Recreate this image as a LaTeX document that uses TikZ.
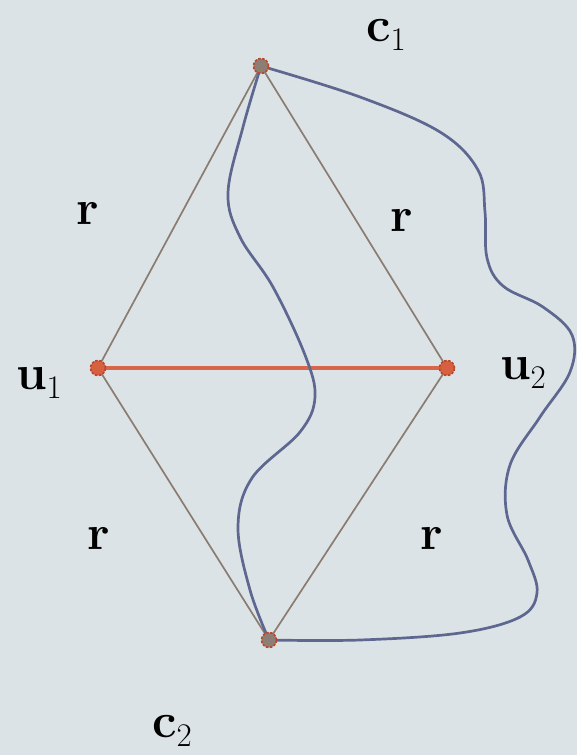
\documentclass[tikz,border=0pt]{standalone}
\newcommand{\subtxt}[1]{\raisebox{-9pt}{\fontsize{33}{36}\selectfont\mdseries #1}}
\begin{document}
\begin{tikzpicture}[x=1pt,y=-1pt,
  pt/.style={circle,inner sep=0pt,minimum size=15pt,draw=ptborder,line width=1.6pt,dash pattern=on 2.5pt off 1.5pt},
  cpt/.style={pt,fill=cfill},
  upt/.style={pt,fill=ufill},
  lbl/.style={inner sep=0pt,font=\fontsize{49}{55}\selectfont\bfseries},
  side/.style={draw=sidec,line width=1.7pt},
  chord/.style={draw=chordc,line width=3.4pt},
  path/.style={draw=pathc,line width=2.7pt}
]
\definecolor{bgc}{HTML}{DCE3E6}
\definecolor{cfill}{HTML}{8E7D72}
\definecolor{ufill}{HTML}{D6603F}
\definecolor{ptborder}{HTML}{B8462B}
\definecolor{sidec}{HTML}{8B7C71}
\definecolor{chordc}{HTML}{D9654B}
\definecolor{pathc}{HTML}{5D6790}
\fill[bgc] (0,0) rectangle (577,755);
\useasboundingbox (0,0) rectangle (577,755);

\coordinate (c1) at (261,66);
\coordinate (u1) at (98,368);
\coordinate (u2) at (447,368);
\coordinate (c2) at (269,640);

\draw[side] (c1) -- (u1) -- (c2) -- (u2) -- cycle;
\draw[chord] (u1) -- (u2);

\draw[path] plot[smooth,tension=0.6] coordinates {(c1) (243,127) (228,193) (240,237) (273,287) (305,355) (315,397) (300,432) (252,478) (238,527) (250,590) (c2)};
\draw[path] plot[smooth,tension=0.6] coordinates {(c1) (360,97) (440,132) (478,170) (485,212) (487,258) (503,286) (543,307) (572,335) (570,372) (540,417) (510,465) (507,515) (528,560) (537,593) (520,617) (460,633) (360,640) (c2)};

\node[cpt] (n1) at (c1) {};
\node[upt] (n2) at (u1) {};
\node[upt] (n3) at (u2) {};
\node[cpt] (n4) at (c2) {};

\node[lbl] (lc1) at (386,35) {c\subtxt{1}};
\node[lbl] (lu1) at (39,383) {u\subtxt{1}};
\node[lbl] (lu2) at (523,373) {u\subtxt{2}};
\node[lbl] (lc2) at (172,731) {c\subtxt{2}};
\node[lbl] (r1) at (88,213) {r};
\node[lbl] (r2) at (402,220) {r};
\node[lbl] (r3) at (99,538) {r};
\node[lbl] (r4) at (432,538) {r};
\end{tikzpicture}
\end{document}
